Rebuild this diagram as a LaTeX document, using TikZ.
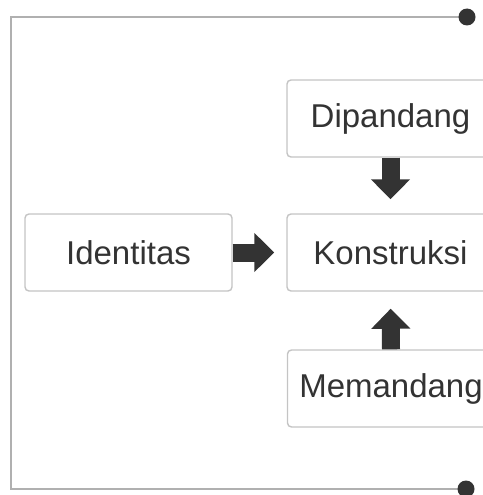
\documentclass[tikz,border=0pt]{standalone}
\usepackage{fontspec}
\setmainfont{Liberation Sans}
\usetikzlibrary{arrows.meta}
\definecolor{txt}{HTML}{333333}
\definecolor{boxline}{HTML}{C4C4C4}
\definecolor{outline}{HTML}{B0B0B0}
\definecolor{arr}{HTML}{333333}
\begin{document}
\begin{tikzpicture}[x=1pt,y=-1pt,
  box/.style={draw=boxline,line width=1.4pt,rounded corners=4pt,fill=white,
    minimum width=207pt,minimum height=77pt,inner sep=0pt,
    font=\fontsize{33}{39}\selectfont,text=txt},
  blockarrow/.style={draw=arr,line width=18pt,
    -{Triangle[width=38pt,length=20pt]}},
  outer/.style={draw=outline,line width=2pt},
  enddot/.style={fill=arr}]
\useasboundingbox (0,0) rectangle (482,495);
\coordinate (t) at (467,17);
\coordinate (tl) at (11,17);
\coordinate (bl) at (11,489);
\coordinate (b) at (466,489);
\draw[outer] (t) -- (tl) -- (bl) -- (b);
\fill[enddot] (t) circle (8.5);
\fill[enddot] (b) circle (8.5);
\node[box] (ident) at (128.5,252.5) {Identitas};
\node[box] (dip) at (390.5,118.5) {Dipandang};
\node[box] (kon) at (390.5,252.5) {Konstruksi};
\node[box] (mem) at (391,388.5) {Memandang};
\draw[blockarrow,shorten >=12pt] (ident.east) -- (kon.west);
\draw[blockarrow,shorten >=14pt] (dip.south) -- (kon.north);
\draw[blockarrow,shorten >=17pt] (mem.north) -- (kon.south);
\end{tikzpicture}
\end{document}
